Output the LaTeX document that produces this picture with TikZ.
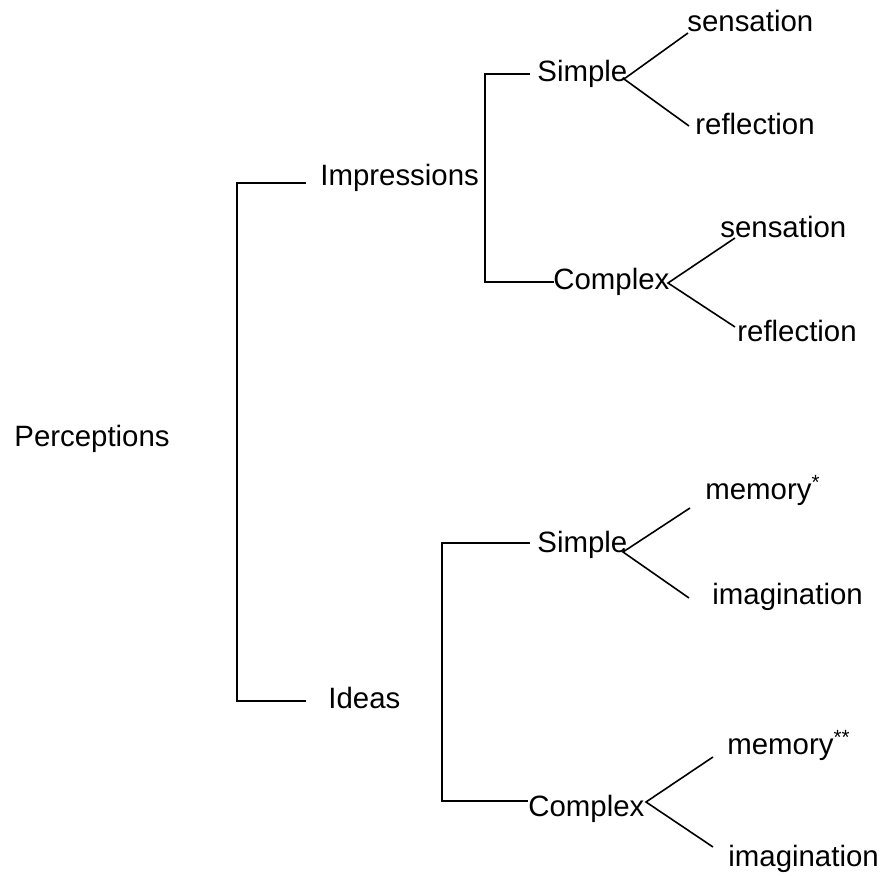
\documentclass[tikz,border=0pt]{standalone}
\usepackage{fontspec}
\setmainfont{Liberation Sans}
\usetikzlibrary{calc}

\tikzset{
  lbl/.style={anchor=base west,inner sep=0pt,font=\fontsize{14.7}{17}\selectfont},
  brk/.style={line width=0.8pt}
}

\begin{document}
\begin{tikzpicture}[x=0.5pt,y=-0.5pt]
\useasboundingbox (0,0) rectangle (885,876);

% Root and first level
\node[lbl] (perc) at (14,447) {Perceptions};
\node[lbl] (imp) at (320,186) {Impressions};
\node[lbl] (ide) at (328,709) {Ideas};
\draw[brk] ($(imp.base west)+(-14,-3)$) -- ++(-69,0) |- ($(ide.base west)+(-22,-8)$);

% Impressions
\node[lbl] (sa) at (537,82) {Simple};
\node[lbl] (ca) at (553,290) {Complex};
\draw[brk] ($(sa.base west)+(-7,-8)$) -- ++(-45,0) |- ($(ca.base west)+(1,-8)$);

\node[lbl] (se1) at (687,32) {sensation};
\node[lbl] (rf1) at (695,135) {reflection};
\coordinate (j1) at ($(sa.base west)+(87,-3)$);
\draw[brk] ($(se1.base west)+(1,1)$) -- (j1) -- ($(rf1.base west)+(-6,-9)$);

\node[lbl] (se2) at (720,238) {sensation};
\node[lbl] (rf2) at (737,342) {reflection};
\coordinate (j2) at ($(ca.base west)+(115,-7)$);
\draw[brk] ($(se2.base west)+(15,0)$) -- (j2) -- ($(rf2.base west)+(-2,-15)$);

% Ideas
\node[lbl] (sb) at (537,553) {Simple};
\node[lbl] (cb) at (528,817) {Complex};
\draw[brk] ($(sb.base west)+(-7,-10)$) -- ++(-88,0) |- ($(cb.base west)+(0,-16)$);

\node[lbl] (me1) at (705,500) {memory\textsuperscript{*}};
\node[lbl] (im1) at (712,605) {imagination};
\coordinate (j3) at ($(sb.base west)+(86,-1)$);
\draw[brk] ($(me1.base west)+(-15,8)$) -- (j3) -- ($(im1.base west)+(-23,-7)$);

\node[lbl] (me2) at (727,755) {memory\textsuperscript{**}};
\node[lbl] (im2) at (728,867) {imagination};
\coordinate (j4) at ($(cb.base west)+(118,-15)$);
\draw[brk] ($(me2.base west)+(-14,2)$) -- (j4) -- ($(im2.base west)+(-15,-20)$);
\end{tikzpicture}
\end{document}
